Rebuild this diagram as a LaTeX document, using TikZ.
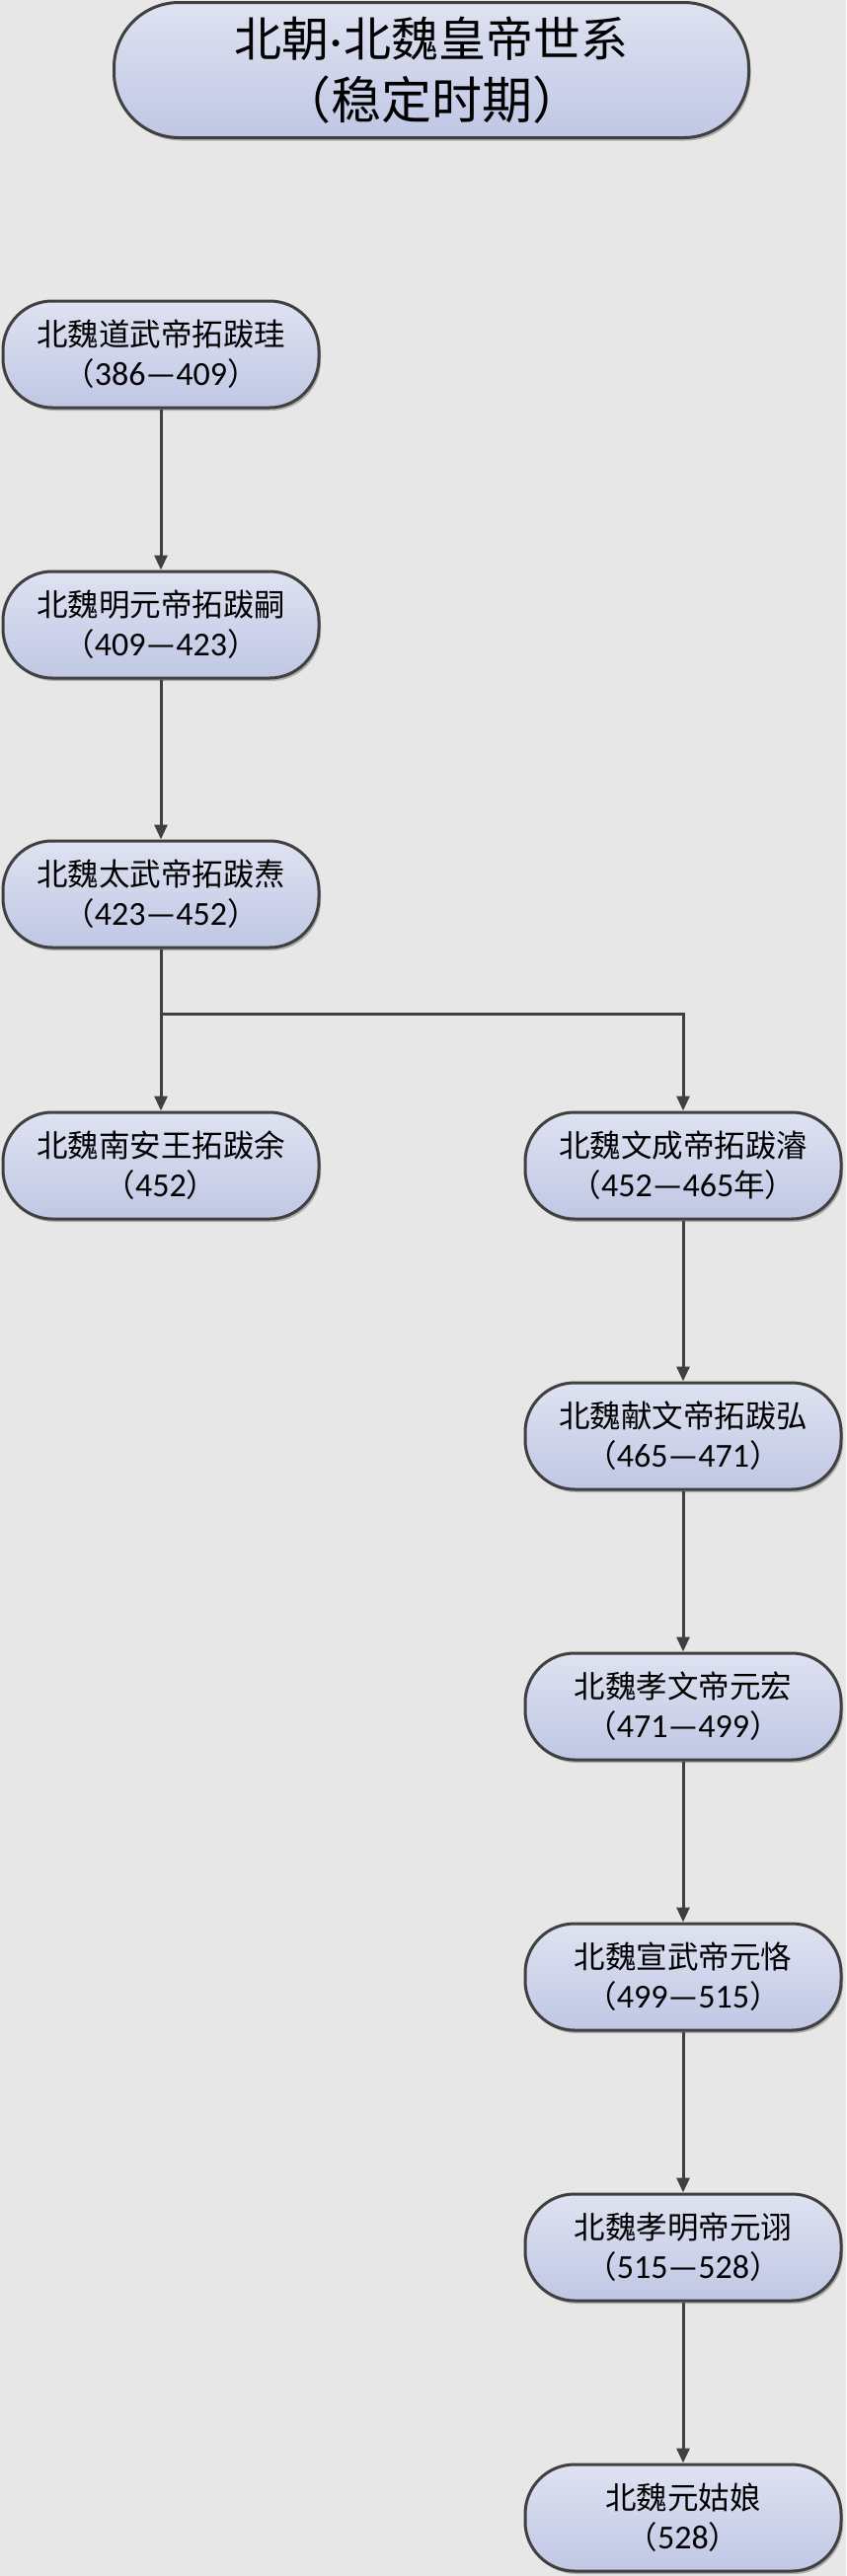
\documentclass[tikz,border=0pt]{standalone}
\usepackage{fontspec}
\setmainfont{Carlito}
\newfontfamily\cjk{Noto Sans CJK SC}
\usetikzlibrary{arrows.meta,shadows}
\definecolor{bgc}{RGB}{231,231,231}
\definecolor{linec}{RGB}{64,64,64}
\definecolor{ftop}{RGB}{222,226,241}
\definecolor{fbot}{RGB}{192,199,228}
\newcommand{\nm}[1]{{\fontsize{34}{40}\selectfont #1}}
\tikzset{
  box/.style={draw=linec, line width=3pt, rounded corners=50pt, minimum width=320pt,
    minimum height=108pt, top color=ftop, bottom color=fbot, align=center,
    font=\fontsize{31.5}{40}\selectfont, inner sep=0pt,
    drop shadow={shadow xshift=2pt, shadow yshift=-3pt, opacity=0.25, fill=black}},
  titlebox/.style={box, rounded corners=66pt, minimum width=643pt, minimum height=137pt,
    font=\fontsize{48}{63}\selectfont},
  conn/.style={draw=linec, line width=3pt},
  arr/.style={conn, -{Triangle[length=15pt,width=13pt]}}
}
\begin{document}
\begin{tikzpicture}[x=1pt,y=-1pt]
\useasboundingbox (0,0) rectangle (857,2610);
\fill[bgc] (0,0) rectangle (857,2610);
\node[titlebox] (t) at (437,71) {{\cjk 北朝}\hspace{1pt}·\hspace{1pt}{\cjk 北魏皇帝世系}\\{\cjk\fontsize{51}{63}\selectfont （稳定时期）}};
\node[box] (n1) at (163,359) {{\cjk 北魏道武帝拓跋珪}\\{\cjk （}\nm{386—409}{\cjk ）}};
\node[box] (n2) at (163,633) {{\cjk 北魏明元帝拓跋嗣}\\{\cjk （}\nm{409—423}{\cjk ）}};
\node[box] (n3) at (163,906) {{\cjk 北魏太武帝拓跋焘}\\{\cjk （}\nm{423—452}{\cjk ）}};
\node[box] (n4) at (163,1181) {{\cjk 北魏南安王拓跋余}\\{\cjk （}\nm{452}{\cjk ）}};
\node[box] (n5) at (692,1181) {{\cjk 北魏文成帝拓跋濬}\\{\cjk （}\nm{452—465}{\cjk 年）}};
\node[box] (n6) at (692,1455) {{\cjk 北魏献文帝拓跋弘}\\{\cjk （}\nm{465—471}{\cjk ）}};
\node[box] (n7) at (692,1729) {{\cjk 北魏孝文帝元宏}\\{\cjk （}\nm{471—499}{\cjk ）}};
\node[box] (n8) at (692,2003) {{\cjk 北魏宣武帝元恪}\\{\cjk （}\nm{499—515}{\cjk ）}};
\node[box] (n9) at (692,2277) {{\cjk 北魏孝明帝元诩}\\{\cjk （}\nm{515—528}{\cjk ）}};
\node[box] (n10) at (692,2551) {{\cjk 北魏元姑娘}\\{\cjk （}\nm{528}{\cjk ）}};
\coordinate (j) at (163,1027);
\draw[arr] (n1) -- (n2);
\draw[arr] (n2) -- (n3);
\draw[conn] (n3.south) -- (j);
\draw[arr] (j) -- (n4);
\draw[arr] (j) -| (n5.north);
\draw[arr] (n5) -- (n6);
\draw[arr] (n6) -- (n7);
\draw[arr] (n7) -- (n8);
\draw[arr] (n8) -- (n9);
\draw[arr] (n9) -- (n10);
\end{tikzpicture}
\end{document}
